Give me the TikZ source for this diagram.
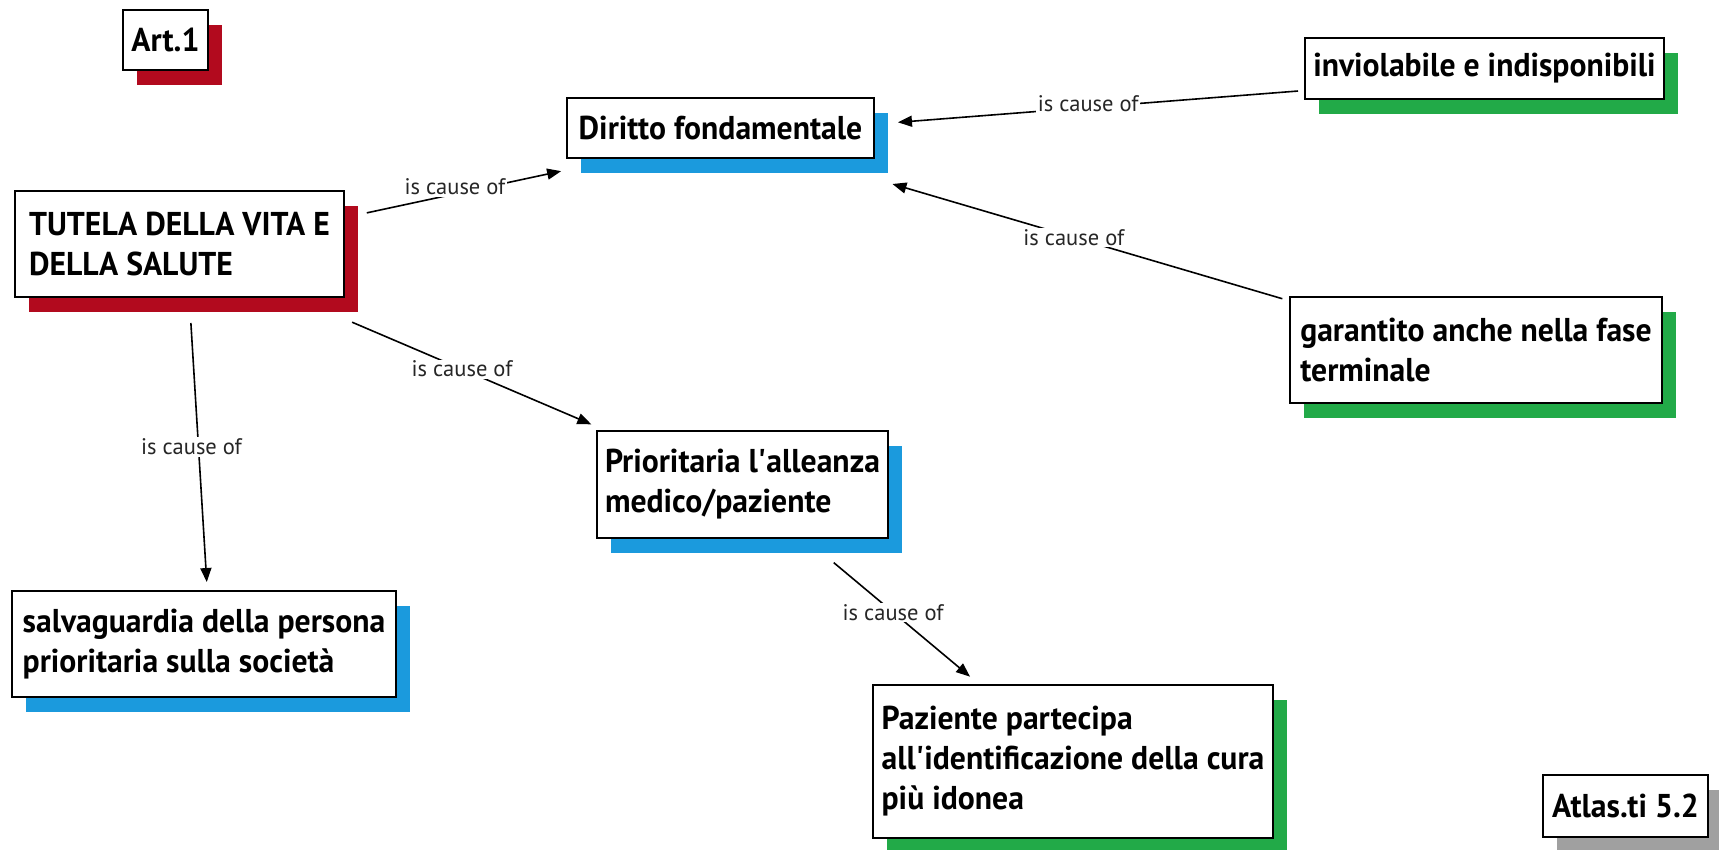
\documentclass[tikz,border=0pt]{standalone}
\usepackage{fontspec}
\newfontfamily\ptsans{PT Sans}
\newfontfamily\ptnarrow{PT Sans}[FakeStretch=0.96]
\usetikzlibrary{arrows.meta}
\definecolor{atred}{RGB}{178,10,30}
\definecolor{atblue}{RGB}{27,154,221}
\definecolor{atgreen}{RGB}{34,170,72}
\definecolor{atgray}{RGB}{160,160,160}
\tikzset{
  shadowbox/.style={draw=none, inner sep=0pt, outer sep=0pt},
  whitebox/.style={draw=black, line width=1.4pt, fill=white, inner sep=0pt, outer sep=0pt,
    align=left, font=\ptnarrow\bfseries\fontsize{33}{40}\selectfont},
  hull/.style={inner sep=0pt, outer sep=0pt},
  conn/.style={line width=1.6pt, -{Triangle[length=14pt,width=11pt]}},
  lbl/.style={fill=white, inner sep=1.5pt, font=\ptsans\fontsize{22.5}{26}\selectfont, text=black!85},
}
\newcommand\conceptbox[7]{%
  \node[shadowbox, fill=#6, minimum width=#4pt, minimum height=#5pt] (#1s) at ({#2+14+#4/2},{#3+15+#5/2}) {};
  \node[whitebox, minimum width=#4pt, minimum height=#5pt] (#1) at ({#2+#4/2},{#3+#5/2}) {#7};
  \node[hull, minimum width=#4pt+14pt, minimum height=#5pt+15pt] (#1h) at ({#2+(#4+14)/2},{#3+(#5+15)/2}) {};
}
\begin{document}
\begin{tikzpicture}[x=1pt, y=-1pt]
\useasboundingbox[fill=white] (0,0) rectangle (1719,850);
\conceptbox{art}{123}{10}{85}{60}{atred}{Art.1}
\conceptbox{tut}{15}{191}{329}{106}{atred}{TUTELA DELLA VITA E\\DELLA SALUTE}
\conceptbox{dir}{567}{98}{307}{60}{atblue}{Diritto fondamentale}
\conceptbox{inv}{1305}{38}{359}{61}{atgreen}{inviolabile e indisponibili}
\conceptbox{gar}{1290}{297}{372}{106}{atgreen}{garantito anche nella fase\\terminale}
\conceptbox{salv}{12}{591}{384}{106}{atblue}{salvaguardia della persona\\prioritaria sulla società}
\conceptbox{prio}{597}{431}{291}{107}{atblue}{Prioritaria l\textquotesingle alleanza\\medico/paziente}
\conceptbox{paz}{873}{685}{400}{153}{atgreen}{Paziente partecipa\\all\textquotesingle identificazione della cura\\più idonea}
\conceptbox{atl}{1543}{775}{165}{62}{atgray}{Atlas.ti 5.2}

\draw[conn, shorten <=9pt, shorten >=6pt] (tuth) -- node[lbl, pos=0.464, yshift=7pt]{is cause of} (dirh);
\draw[conn, shorten <=11pt, shorten >=9pt] (tuth) -- node[lbl, pos=0.484, xshift=-7pt]{is cause of} (salvh);
\draw[conn, shorten <=26pt, shorten >=17pt] (tuth) -- node[lbl, pos=0.48]{is cause of} (prioh);
\draw[conn, shorten <=7pt, shorten >=10pt] (invh) -- node[lbl, pos=0.52, yshift=4pt]{is cause of} (dirh);
\draw[conn, shorten <=8pt, shorten >=39pt] (garh) -- node[lbl, pos=0.497]{is cause of} (dirh);
\draw[conn, shorten <=15pt, shorten >=13pt] (prioh) -- node[lbl, pos=0.449]{is cause of} (pazh);
\end{tikzpicture}
\end{document}
